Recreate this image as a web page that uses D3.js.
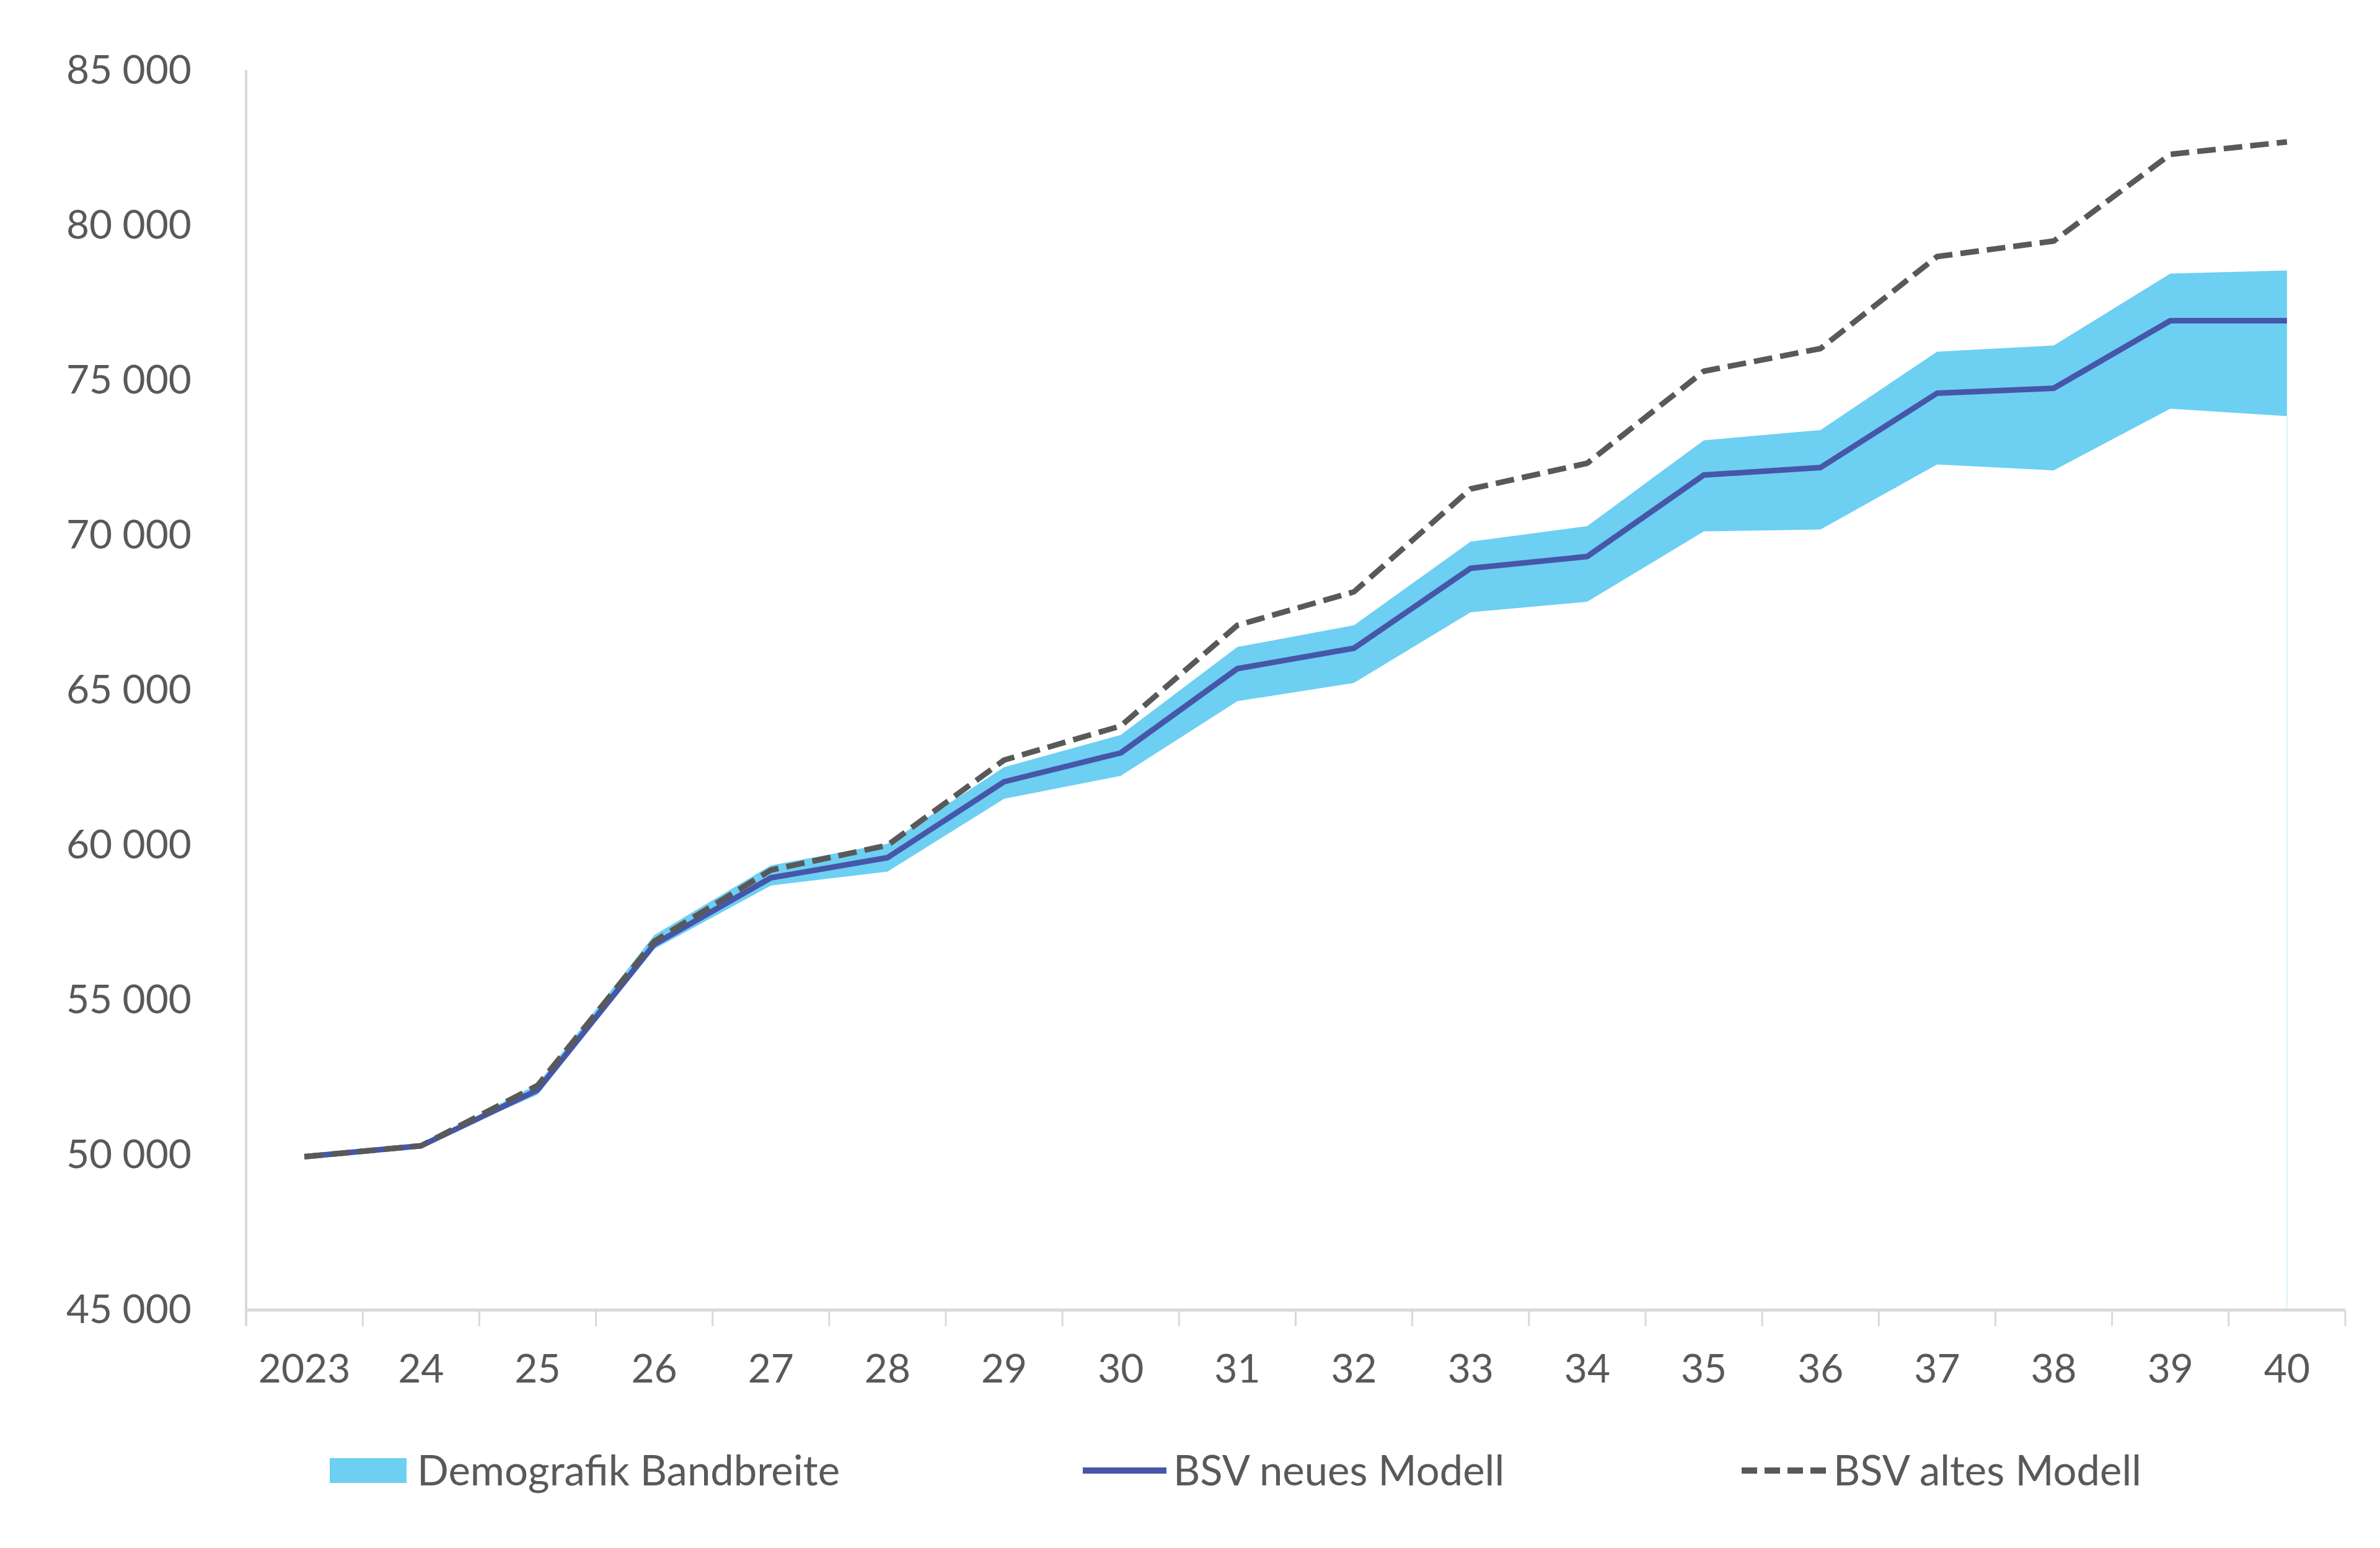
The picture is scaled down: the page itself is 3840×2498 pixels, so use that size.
<!DOCTYPE html>
<html>
<head>
<meta charset="utf-8">
<script src="https://cdn.jsdelivr.net/npm/d3@7"></script>
<style>
  html, body { margin: 0; padding: 0; background: #ffffff; }
  svg { display: block; }
  text { font-family: Lato, "Open Sans", sans-serif; fill: #595959; }
</style>
</head>
<body>
<svg id="chart" width="3840" height="2498"></svg>
<script>
// ---- data ----
const years = ["2023","24","25","26","27","28","29","30","31","32","33","34","35","36","37","38","39","40"];
const bsvNeu = [49950, 50300, 52100, 56800, 58950, 59600, 62050, 62980, 65700, 66360, 68940, 69320, 71950, 72190, 74590, 74750, 76930, 76930];
const bsvAlt = [49950, 50300, 52250, 56900, 59200, 60000, 62750, 63850, 67100, 68180, 71500, 72330, 75300, 76030, 79000, 79500, 82300, 82700];
const bandHigh = [49950, 50300, 52300, 57100, 59350, 60050, 62520, 63560, 66400, 67100, 69800, 70300, 73070, 73400, 75930, 76130, 78450, 78550];
const bandLow = [49950, 50300, 51950, 56650, 58700, 59150, 61500, 62240, 64650, 65240, 67520, 67860, 70130, 70190, 72290, 72100, 74090, 73850];
const yTicks = [45000, 50000, 55000, 60000, 65000, 70000, 75000, 80000, 85000];
const legendLabels = ["Demografik Bandbreite", "BSV neues Modell", "BSV altes Modell"];

(function () {
// ---- styles ----
const bandColor = "#6dcff2";
const neuColor = "#4656a8";
const altColor = "#595959";
const axisColor = "#d9d9d9";

const svg = d3.select("#chart");
const pLeft = 397, pRight = 3784, pTop = 114, pBottom = 2114;

const x = d3.scaleBand().domain(years).range([pLeft, pRight]).padding(0);
const y = d3.scaleLinear().domain([45000, 85000]).range([pBottom, pTop]);
const cx = d => x(d) + x.bandwidth() / 2;

const loc = d3.formatLocale({decimal: ",", thousands: "\u00a0", grouping: [3], currency: ["", ""]});
const fmt = loc.format(",");

// Y axis
const yAxis = svg.append("g").attr("transform", `translate(${pLeft},0)`)
  .call(d3.axisLeft(y).tickValues(yTicks).tickSize(0).tickPadding(88).tickFormat(d => fmt(d)));
yAxis.select(".domain").remove();
yAxis.selectAll("text").attr("font-size", 64).style("font-family", "Lato, sans-serif").attr("fill", "#595959");
svg.append("line").attr("x1", pLeft).attr("x2", pLeft).attr("y1", pTop - 1).attr("y2", pBottom + 24)
  .attr("stroke", axisColor).attr("stroke-width", 4);

// X axis
const xAxis = svg.append("g").attr("transform", `translate(0,${pBottom})`)
  .call(d3.axisBottom(x).tickSize(0).tickPadding(72));
xAxis.select(".domain").remove();
xAxis.selectAll("text").attr("font-size", 64).style("font-family", "Lato, sans-serif").attr("fill", "#595959");
svg.append("line").attr("x1", pLeft).attr("x2", pRight).attr("y1", pBottom).attr("y2", pBottom)
  .attr("stroke", axisColor).attr("stroke-width", 5);
const boundaries = d3.range(years.length + 1).map(i => pLeft + i * x.step());
svg.append("g").selectAll("line").data(boundaries).join("line")
  .attr("x1", d => d).attr("x2", d => d).attr("y1", pBottom).attr("y2", pBottom + 26)
  .attr("stroke", axisColor).attr("stroke-width", 3);

// Band
const rows = years.map((yr, i) => ({yr, lo: bandLow[i], hi: bandHigh[i], neu: bsvNeu[i], alt: bsvAlt[i]}));
svg.append("path").datum(rows)
  .attr("d", d3.area().x(d => cx(d.yr)).y0(d => y(d.lo)).y1(d => y(d.hi)))
  .attr("fill", bandColor);
// faint edge at the last category
const last = rows[rows.length - 1];
svg.append("line").attr("x1", cx(last.yr)).attr("x2", cx(last.yr))
  .attr("y1", y(last.lo)).attr("y2", pBottom - 3)
  .attr("stroke", "#e3f5fc").attr("stroke-width", 3);

// Lines
svg.append("path").datum(rows)
  .attr("d", d3.line().x(d => cx(d.yr)).y(d => y(d.neu)))
  .attr("fill", "none").attr("stroke", neuColor).attr("stroke-width", 9).attr("stroke-linejoin", "round");
svg.append("path").datum(rows)
  .attr("d", d3.line().x(d => cx(d.yr)).y(d => y(d.alt)))
  .attr("fill", "none").attr("stroke", altColor).attr("stroke-width", 9)
  .attr("stroke-dasharray", "30,13").attr("stroke-linejoin", "round");

// Legend
const ly = 2373;
const lg = svg.append("g");
lg.append("rect").attr("x", 532).attr("y", ly - 20).attr("width", 124).attr("height", 40).attr("fill", bandColor);
lg.append("text").attr("x", 673).attr("y", ly).attr("dy", "0.36em").attr("font-size", 67).text(legendLabels[0]);
lg.append("line").attr("x1", 1747).attr("x2", 1882).attr("y1", ly).attr("y2", ly)
  .attr("stroke", neuColor).attr("stroke-width", 10);
lg.append("text").attr("x", 1893).attr("y", ly).attr("dy", "0.36em").attr("font-size", 67).text(legendLabels[1]);
lg.append("line").attr("x1", 2810).attr("x2", 2946).attr("y1", ly).attr("y2", ly)
  .attr("stroke", altColor).attr("stroke-width", 10).attr("stroke-dasharray", "25,12");
lg.append("text").attr("x", 2958).attr("y", ly).attr("dy", "0.36em").attr("font-size", 67).text(legendLabels[2]);
})();
</script>
</body>
</html>
